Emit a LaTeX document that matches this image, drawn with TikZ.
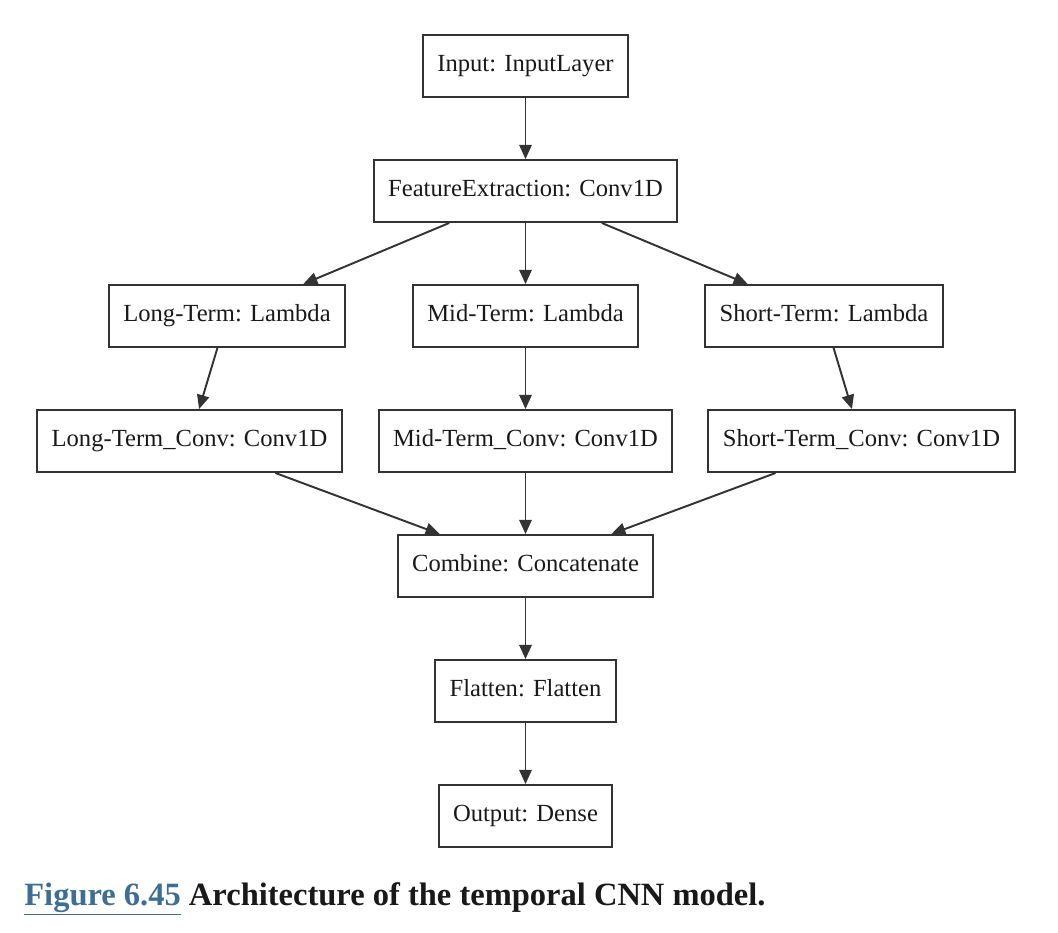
\documentclass[tikz,border=0pt]{standalone}
\usepackage{fontspec}
\setmainfont{Liberation Serif}
\usetikzlibrary{shapes,arrows.meta}
\definecolor{figlink}{HTML}{3C6E96}
\tikzstyle{block} = [rectangle, draw=black!80, line width=1.1pt, text=black!90,
inner xsep=0.29cm, minimum height=1.24cm, text height=0.8em, text depth=0.14em,
font=\fontsize{14}{17}\selectfont]
\tikzstyle{line} = [draw=black!80, line width=1.1pt, -{Triangle[length=8pt,width=7pt]}]

\begin{document}
\begin{tikzpicture}[node distance = 2.5cm, auto]
\useasboundingbox (0,0) rectangle (21.16,-18.64);
% Place nodes
\node [block] (input) at (10.51,-1.32) {Input: InputLayer};
\node [block, below of=input] (extract) {FeatureExtraction: Conv1D};
\node [block, below of=extract] (midterm) {Mid-Term: Lambda};
\node [block, left of=midterm, node distance=5.97cm] (longterm) {Long-Term: Lambda};
\node [block, right of=midterm, node distance=5.97cm] (shortterm) {Short-Term: Lambda};
\node [block, below of=midterm] (midconv) {Mid-Term\_Conv: Conv1D};
\node [block, left of=midconv, node distance=6.72cm] (longconv) {Long-Term\_Conv: Conv1D};
\node [block, right of=midconv, node distance=6.72cm] (shortconv) {Short-Term\_Conv: Conv1D};
\node [block, below of=midconv] (combine) {Combine: Concatenate};
\node [block, below of=combine] (flatten) {Flatten: Flatten};
\node [block, below of=flatten] (output) {Output: Dense};
\node [anchor=base west, inner sep=0pt, text=black!90,
font=\bfseries\fontsize{18.5}{22}\selectfont] (caption) at (0.48,-18.1)
{\textcolor{figlink}{\underline{Figure 6.45}} Architecture of the temporal CNN model.};
% Draw edges
\path [line] (input) -- (extract);
\path [line] (extract) -- (longterm);
\path [line] (extract) -- (midterm);
\path [line] (extract) -- (shortterm);
\path [line] (longterm) -- (longconv);
\path [line] (midterm) -- (midconv);
\path [line] (shortterm) -- (shortconv);
\path [line] (longconv) -- (combine);
\path [line] (midconv) -- (combine);
\path [line] (shortconv) -- (combine);
\path [line] (combine) -- (flatten);
\path [line] (flatten) -- (output);
\end{tikzpicture}
\end{document}
